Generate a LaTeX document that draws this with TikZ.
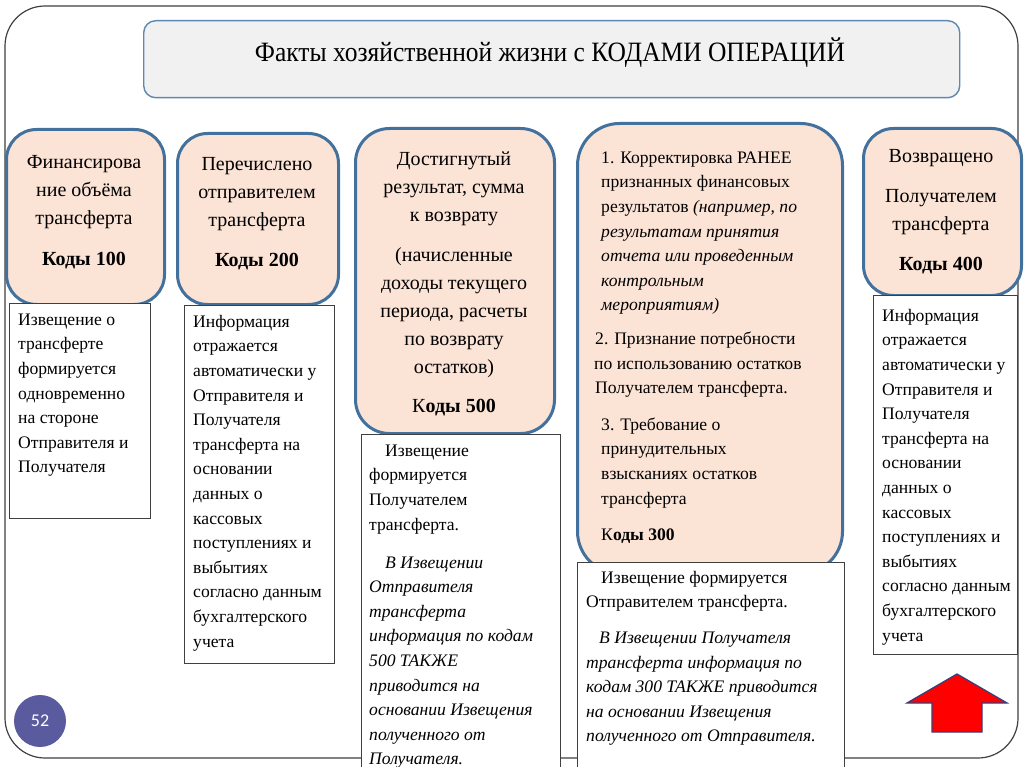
\documentclass[tikz,border=0pt]{standalone}
\usepackage{fontspec}
\setmainfont{Liberation Serif}
\newfontfamily\pagenumfont{Carlito}
\definecolor{peach}{HTML}{FBE3D6}
\definecolor{boxblue}{HTML}{41719C}
\definecolor{headfill}{HTML}{F1F1F1}
\definecolor{headline}{HTML}{5F88B0}
\definecolor{tgray}{HTML}{404040}
\definecolor{circfill}{HTML}{5A5A9E}
\definecolor{arrowline}{HTML}{3D3D7A}
\newcommand\szBig{\fontsize{20}{28}\selectfont}
\newcommand\szSmall{\fontsize{17.6}{24.6}\selectfont}
\newcommand\szHead{\fontsize{28}{32}\selectfont}
\tikzset{
  frame/.style={draw=tgray, line width=1.2pt, rounded corners=40pt},
  headbox/.style={draw=headline, line width=1.4pt, fill=headfill, rounded corners=12pt, inner sep=0pt},
  cbox/.style={draw=boxblue, line width=3pt, fill=peach, inner sep=0pt, anchor=north west},
  tbox/.style={draw=tgray, line width=0.9pt, fill=white, inner sep=0pt, anchor=north west},
  ctext/.style={inner sep=0pt, anchor=north, align=center, font=\szBig},
  ltext/.style={inner sep=0pt, anchor=north west, align=left, font=\szSmall},
}
\begin{document}
\begin{tikzpicture}[x=1pt,y=-1pt]
\useasboundingbox (0,0) rectangle (1024,767);
\fill[white] (0,0) rectangle (1024,767);
% outer frame
\draw[frame] (5,6) rectangle (1018,758);
% header
\node[headbox, minimum width=816pt, minimum height=77pt, anchor=north west] (head) at (143,20) {};
\node[inner sep=0pt, anchor=base, font=\szHead] (headtxt) at (550,62)
  {\resizebox{590pt}{\height}{Факты хозяйственной жизни с КОДАМИ ОПЕРАЦИЙ}};
% rounded code boxes
\node[cbox, rounded corners=30pt, minimum width=158pt, minimum height=175pt] (b1) at (5,128) {};
\node[cbox, rounded corners=30pt, minimum width=161pt, minimum height=171pt] (b2) at (176,132) {};
\node[cbox, rounded corners=34pt, minimum width=199pt, minimum height=305pt] (b3) at (354,127) {};
\node[cbox, rounded corners=42pt, minimum width=265pt, minimum height=450pt] (b4) at (576,122) {};
\node[cbox, rounded corners=30pt, minimum width=158pt, minimum height=167pt] (b5) at (862,127) {};
% notice boxes
\node[tbox, minimum width=141pt, minimum height=215pt] (t1) at (9,303) {};
\node[tbox, minimum width=150pt, minimum height=358pt] (t2) at (184,305) {};
\node[tbox, minimum width=199pt, minimum height=360pt] (t3) at (361,434) {};
\node[tbox, minimum width=267pt, minimum height=230pt] (t4) at (577,562) {};
\node[tbox, minimum width=144pt, minimum height=359pt] (t5) at (873,295) {};
% code box texts
\node[ctext] (b1t) at (84,168-19.6) {\strut Финансирова\\ние объёма\\трансферта\\[13pt]\textbf{Коды 100}};
\node[ctext] (b2t) at (257,170-19.6) {\strut Перечислено\\отправителем\\трансферта\\[12pt]\textbf{Коды 200}};
\node[ctext] (b3t) at (454,165-19.6) {\strut Достигнутый\\результат, сумма\\к возврату\\[12pt](начисленные\\доходы текущего\\периода, расчеты\\по возврату\\остатков)\\[11pt]К\textbf{оды 500}};
\node[ctext] (b5t) at (941,162-19.6) {\strut Возвращено\\[12pt]Получателем\\трансферта\\[12pt]\textbf{Коды 400}};
\node[ltext] (b4t) at (601,163-17.2) {\strut 1. Корректировка РАНЕЕ\\
признанных финансовых\\
результатов \textit{(например, по}\\
\textit{результатам принятия}\\
\textit{отчета или проведенным}\\
\textit{контрольным}\\
\textit{мероприятиям)}\\[9pt]
\kern-6pt 2. Признание потребности\\
\kern-7pt по использованию остатков\\
\kern-6pt Получателем трансферта.\\[12pt]
3. Требование о\\
принудительных\\
взысканиях остатков\\
трансферта\\[12pt]
К\textbf{оды 300}};
% notice texts
\node[ltext] (t1t) at (18,325-17.2) {\strut Извещение о\\трансферте\\формируется\\одновременно\\на стороне\\Отправителя и\\Получателя};
\node[ltext] (t2t) at (193,327-17.2) {\strut Информация\\отражается\\автоматически у\\Отправителя и\\Получателя\\трансферта на\\основании\\данных о\\кассовых\\поступлениях и\\выбытиях\\согласно данным\\бухгалтерского\\учета};
\node[ltext] (t3t) at (369,456-17.2) {\strut \kern16pt Извещение\\формируется\\Получателем\\трансферта.\\[13.5pt]
\itshape\kern16pt В Извещении\\\itshape Отправителя\\\itshape трансферта\\\itshape информация по кодам\\\itshape 500 ТАКЖЕ\\\itshape приводится на\\\itshape основании Извещения\\\itshape полученного от\\\itshape Получателя.};
\node[ltext] (t4t) at (586,583-17.2) {\strut \kern15pt Извещение формируется\\Отправителем трансферта.\\[11pt]
\itshape\kern13pt В Извещении Получателя\\\itshape трансферта информация по\\\itshape кодам 300 ТАКЖЕ приводится\\\itshape на основании Извещения\\\itshape полученного от Отправителя.};
\node[ltext] (t5t) at (882,321-17.2) {\strut Информация\\отражается\\автоматически у\\Отправителя и\\Получателя\\трансферта на\\основании\\данных о\\кассовых\\поступлениях и\\выбытиях\\согласно данным\\бухгалтерского\\учета};
% page number
\node[circle, fill=circfill, minimum size=52pt, inner sep=0pt, text=white, font=\pagenumfont\fontsize{18}{20}\selectfont] (pnum) at (40,721) {52};
% red arrow
\draw[fill=red, draw=arrowline, line width=1.3pt, line join=miter]
  (957,674) -- (1007,703) -- (982,703) -- (982,732) -- (932,732) -- (932,703) -- (907,703) -- cycle;
\end{tikzpicture}
\end{document}
